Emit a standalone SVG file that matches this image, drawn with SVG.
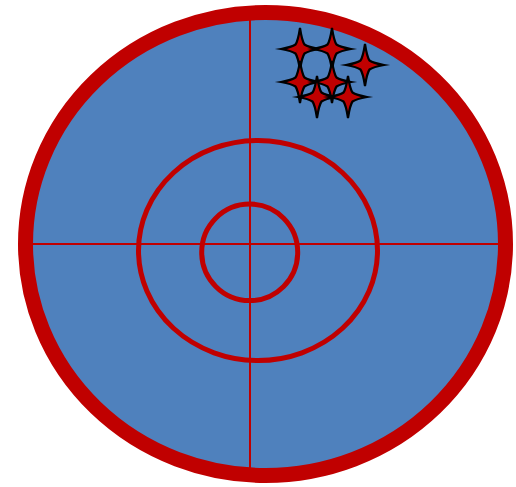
<svg xmlns="http://www.w3.org/2000/svg" width="516" height="487" viewBox="0 0 516 487">
<style>
.ring{fill:none;stroke:#C00000}
.cross{stroke:#C00000;stroke-width:2}
.star{fill:#C00000;stroke:#000;stroke-width:2.2;stroke-linejoin:miter;stroke-miterlimit:6}
</style>
<defs>
<path id="star" d="M0,-21 Q2,-8 4.5,-4.5 Q8,-2 19,0 Q8,2 4.5,4.5 Q2,8 0,21 Q-2,8 -4.5,4.5 Q-8,2 -19,0 Q-8,-2 -4.5,-4.5 Q-2,-8 0,-21Z"/>
</defs>
<g id="target">
<ellipse cx="265.5" cy="244" rx="240" ry="231.5" fill="#4F81BD" stroke="#C00000" stroke-width="15"/>
</g>
<g id="crosshair">
<line class="cross" x1="250" y1="20" x2="250" y2="468"/>
<line class="cross" x1="33" y1="244" x2="498" y2="244"/>
</g>
<g id="rings">
<ellipse class="ring" cx="258" cy="250.5" rx="119.5" ry="110" stroke-width="5"/>
<ellipse class="ring" cx="249.7" cy="252.3" rx="48" ry="48.3" stroke-width="5"/>
</g>
<g id="stars">
<use href="#star" class="star" x="300" y="49"/>
<use href="#star" class="star" x="332" y="49"/>
<use href="#star" class="star" x="365" y="65"/>
<use href="#star" class="star" x="300" y="82"/>
<use href="#star" class="star" x="332" y="82"/>
<use href="#star" class="star" x="317" y="97"/>
<use href="#star" class="star" x="348" y="97"/>
</g>
</svg>
